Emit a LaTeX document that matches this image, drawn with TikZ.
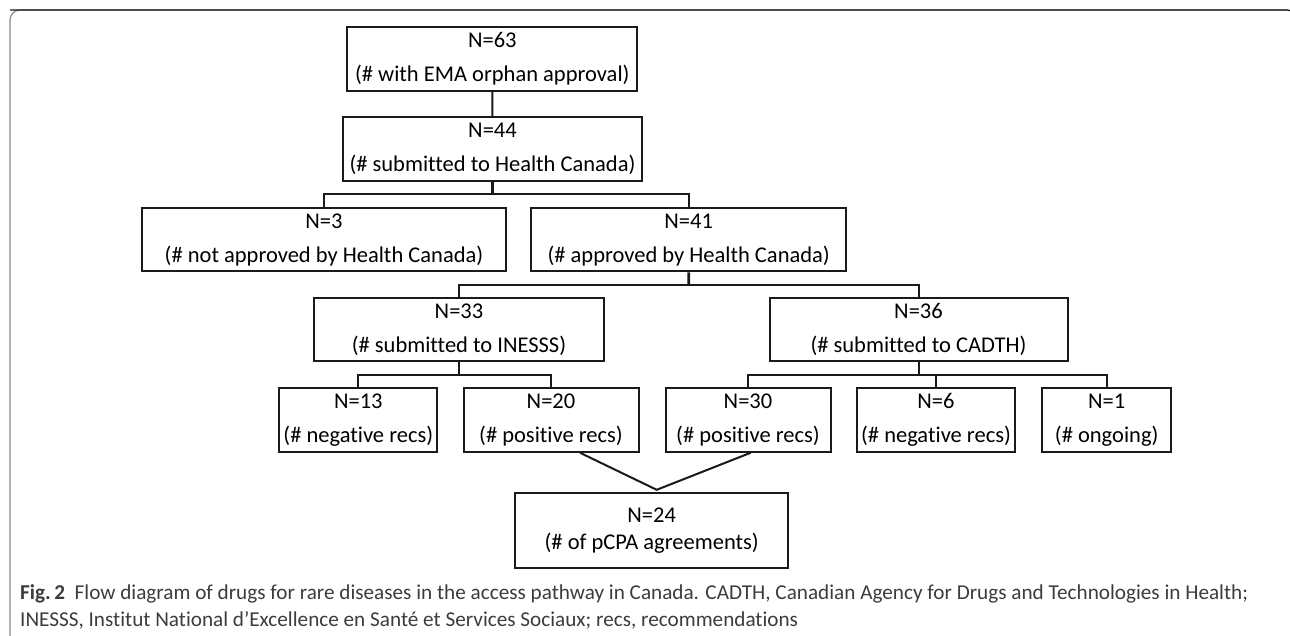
\documentclass[tikz,border=0pt]{standalone}
\usepackage{fontspec}
\setmainfont{Carlito}[Ligatures=CommonOff]
\newfontfamily\captionfont{Carlito}[Ligatures=CommonOff]
\usetikzlibrary{positioning, calc}
\definecolor{ink}{HTML}{1A1A1A}
\definecolor{framegray}{HTML}{8A8A8A}

\begin{document}
\begin{tikzpicture}[
    x=1pt, y=-1pt,
    % Styles
    countnode/.style={
        rectangle,
        draw=ink,
        fill=white,
        line width=2pt,
        inner sep=0pt,
        align=center,
        minimum height=63.5pt,
        font=\fontsize{22.5}{34}\selectfont
    },
    totalnode/.style={
        countnode,
        minimum height=75pt,
        font=\fontsize{22.5}{26.7}\selectfont
    },
    link/.style={
        draw=ink,
        line width=2pt
    },
    framebox/.style={
        draw=framegray,
        line width=1.2pt,
        rounded corners=10pt
    },
    captiontext/.style={
        align=left,
        inner sep=0pt,
        text=ink!85,
        font=\captionfont\fontsize{21.2}{27}\selectfont
    }
]

    \useasboundingbox (0,0) rectangle (1290,636);
    \clip (0,0) rectangle (1290,636);

    % ================= FRAME =================
    \draw[framebox] (10,10) rectangle (1297,648);
    \draw[framebox, draw=ink] (1297,30) |- (10,10);

    % ================= TOP OF PATHWAY =================
    \node[countnode, minimum width=290pt] (ema) at (492.3,59) {N=63\\(\# with EMA orphan approval)};
    \node[countnode, minimum width=299pt] (hc) at (492.5,149.2) {N=44\\(\# submitted to Health Canada)};

    % ================= HEALTH CANADA DECISION =================
    \node[countnode, minimum width=364pt] (notapproved) at (324,239.7) {N=3\\(\# not approved by Health Canada)};
    \node[countnode, minimum width=315pt] (approved) at (688.7,239.7) {N=41\\(\# approved by Health Canada)};

    % ================= HTA SUBMISSIONS =================
    \node[countnode, minimum width=290pt] (inesss) at (459,329.7) {N=33\\(\# submitted to INESSS)};
    \node[countnode, minimum width=298pt] (cadth) at (918.5,329.7) {N=36\\(\# submitted to CADTH)};

    % ================= RECOMMENDATIONS =================
    \node[countnode, minimum width=158pt] (inessneg) at (358.3,420) {N=13\\(\# negative recs)};
    \node[countnode, minimum width=175pt] (inesspos) at (551,420) {N=20\\(\# positive recs)};
    \node[countnode, minimum width=165pt] (cadthpos) at (748,420) {N=30\\(\# positive recs)};
    \node[countnode, minimum width=158pt] (cadthneg) at (936,420) {N=6\\(\# negative recs)};
    \node[countnode, minimum width=129pt] (ongoing) at (1106.7,420) {N=1\\(\# ongoing)};

    % ================= AGREEMENTS =================
    \node[totalnode, minimum width=273pt] (pcpa) at (651.7,530.8) {N=24\\(\# of pCPA agreements)};

    % ================= CONNECTIONS =================
    \coordinate (splithc) at ($(hc.south)!0.5!(hc.south |- approved.north)$);
    \coordinate (splitapp) at ($(approved.south)!0.5!(approved.south |- inesss.north)$);
    \coordinate (splitin) at ($(inesss.south)!0.5!(inesss.south |- inessneg.north)$);
    \coordinate (splitca) at ($(cadth.south)!0.5!(cadth.south |- cadthneg.north)$);

    \draw[link] (ema) -- (hc);
    \draw[link, line width=2.6pt] (hc.south) -- (splithc);
    \draw[link] (notapproved.north) |- (splithc) -| (approved.north);
    \draw[link, line width=2.6pt] (approved.south) -- (splitapp);
    \draw[link] (inesss.north) |- (splitapp) -| (cadth.north);
    \draw[link] (inesss.south) -- (splitin);
    \draw[link] (inessneg.north) |- (splitin) -| (inesspos.north);
    \draw[link] (cadth.south) -- (splitca);
    \draw[link] (cadthpos.north) |- (splitca) -| (ongoing.north);
    \draw[link] (cadthneg.north) -- (cadthneg.north |- splitca);

    % Positive recs joining into pCPA
    \draw[link] ([xshift=29pt]inesspos.south) -- ([xshift=5pt, yshift=2.5pt]pcpa.north) -- ([xshift=2.7pt]cadthpos.south);

    % ================= CAPTION =================
    \node[captiontext, anchor=west] (caption) at (20,606.5) {\textbf{Fig.\,2}\hspace{0.45em}Flow diagram of drugs for rare diseases in the access pathway in Canada. CADTH, Canadian Agency for Drugs and Technologies in Health;\\INESSS, Institut National d’Excellence en Santé et Services Sociaux; recs, recommendations};

\end{tikzpicture}
\end{document}
